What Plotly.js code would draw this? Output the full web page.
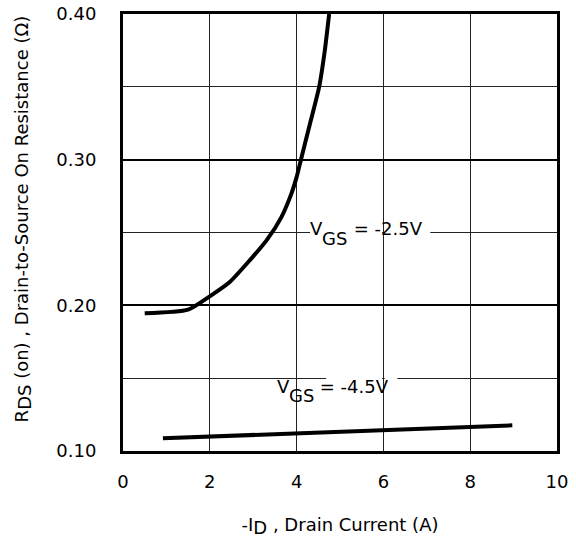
<!DOCTYPE html>
<html>
<head>
<meta charset="utf-8">
<script src="https://cdn.plot.ly/plotly-3.0.1.min.js"></script>
<style>html,body{margin:0;padding:0;background:#fff;}#chart{width:576px;height:539px;}</style>
</head>
<body>
<div id="chart"></div>
<script>
// V_GS = -2.5 V curve
const id_25 = [0.5, 1.5, 2.0, 2.46, 2.92, 3.32, 3.65, 3.88, 4.0, 4.1, 4.32, 4.52, 4.65, 4.75];
const rds_25 = [0.1945, 0.197, 0.2062, 0.216, 0.2309, 0.2451, 0.2606, 0.2767, 0.288, 0.300, 0.326, 0.350, 0.375, 0.400];
// V_GS = -4.5 V curve
const id_45 = [0.92, 8.97];
const rds_45 = [0.1087, 0.1176];
// axis ticks
const xTicks = [0, 2, 4, 6, 8, 10];
const yTicks = [0.10, 0.20, 0.30, 0.40];
// curve labels: [V, subscript, rest]
const label25 = ["V", "GS", " = -2.5V"];
const label45 = ["V", "GS", " = -4.5V"];
const xTitle = "-I<sub><span style='font-size:18px'>D</span></sub> , Drain Current (A)";
const yTitle = "R<sub><span style='font-size:18px'>DS</span></sub> (on) , Drain-to-Source On Resistance (Ω)";

const FONT = "DejaVu Sans, Arial, sans-serif";
const FS = 18;
const traces = [
  {x: id_25, y: rds_25, mode: "lines", line: {color: "black", width: 4, shape: "spline", smoothing: 0.6}, hoverinfo: "skip"},
  {x: id_45, y: rds_45, mode: "lines", line: {color: "black", width: 4}, hoverinfo: "skip"}
];
function white(x0, x1, y0, y1) {
  return {type: "rect", layer: "between", xref: "x", yref: "y", x0: x0, x1: x1, y0: y0, y1: y1,
          fillcolor: "white", line: {width: 0}};
}
const wV = 0.684 * FS, wGS = (0.775 + 0.635) * FS;
function label(parts, x, yMain, ySub) {
  const base = {xref: "x", yref: "y", showarrow: false, xanchor: "left", yanchor: "middle",
                font: {size: FS}, borderpad: 0, borderwidth: 0};
  return [
    Object.assign({}, base, {x: x, y: yMain, text: parts[0]}),
    Object.assign({}, base, {x: x, y: ySub, text: parts[1], xshift: wV}),
    Object.assign({}, base, {x: x, y: yMain, text: parts[2], xshift: wV + wGS})
  ];
}
const layout = {
  width: 576, height: 539,
  margin: {l: 123, r: 19, t: 14, b: 88},
  paper_bgcolor: "white", plot_bgcolor: "white",
  showlegend: false,
  font: {family: FONT, size: FS, color: "black"},
  xaxis: {
    range: [0, 10], tickvals: xTicks, ticktext: xTicks.map(String),
    showgrid: true, gridcolor: "#222", gridwidth: 1.2,
    showline: true, linecolor: "black", linewidth: 3, mirror: true,
    ticks: "", ticklabelstandoff: 12, zeroline: false,
    title: {text: xTitle, font: {size: FS}, standoff: 28}
  },
  yaxis: {
    range: [0.10, 0.40], tickvals: yTicks, ticktext: yTicks.map(v => v.toFixed(2)),
    showgrid: true, gridcolor: "black", gridwidth: 2,
    minor: {tickvals: [0.15, 0.25, 0.35], showgrid: true, gridcolor: "#222", gridwidth: 1.2},
    showline: true, linecolor: "black", linewidth: 3, mirror: true,
    ticks: "inside", ticklen: 17, tickwidth: 2, tickcolor: "black",
    ticklabelstandoff: 20, zeroline: false
  },
  shapes: [
    white(4.31, 5.97, 0.2485, 0.2515),
    white(6.03, 7.08, 0.2485, 0.2515),
    white(4.68, 5.97, 0.1485, 0.1515),
    white(6.03, 6.32, 0.1485, 0.1515)
  ],
  annotations: [].concat(
    label(label25, 4.31, 0.2525, 0.2458),
    label(label45, 3.54, 0.1441, 0.1379),
    [{xref: "paper", yref: "paper", x: 0, y: 0.53, xshift: -100, xanchor: "center", yanchor: "middle",
      textangle: -90, showarrow: false, text: yTitle, font: {size: FS}}]
  )
};
Plotly.newPlot("chart", traces, layout, {staticPlot: true, displayModeBar: false});
</script>
</body>
</html>
